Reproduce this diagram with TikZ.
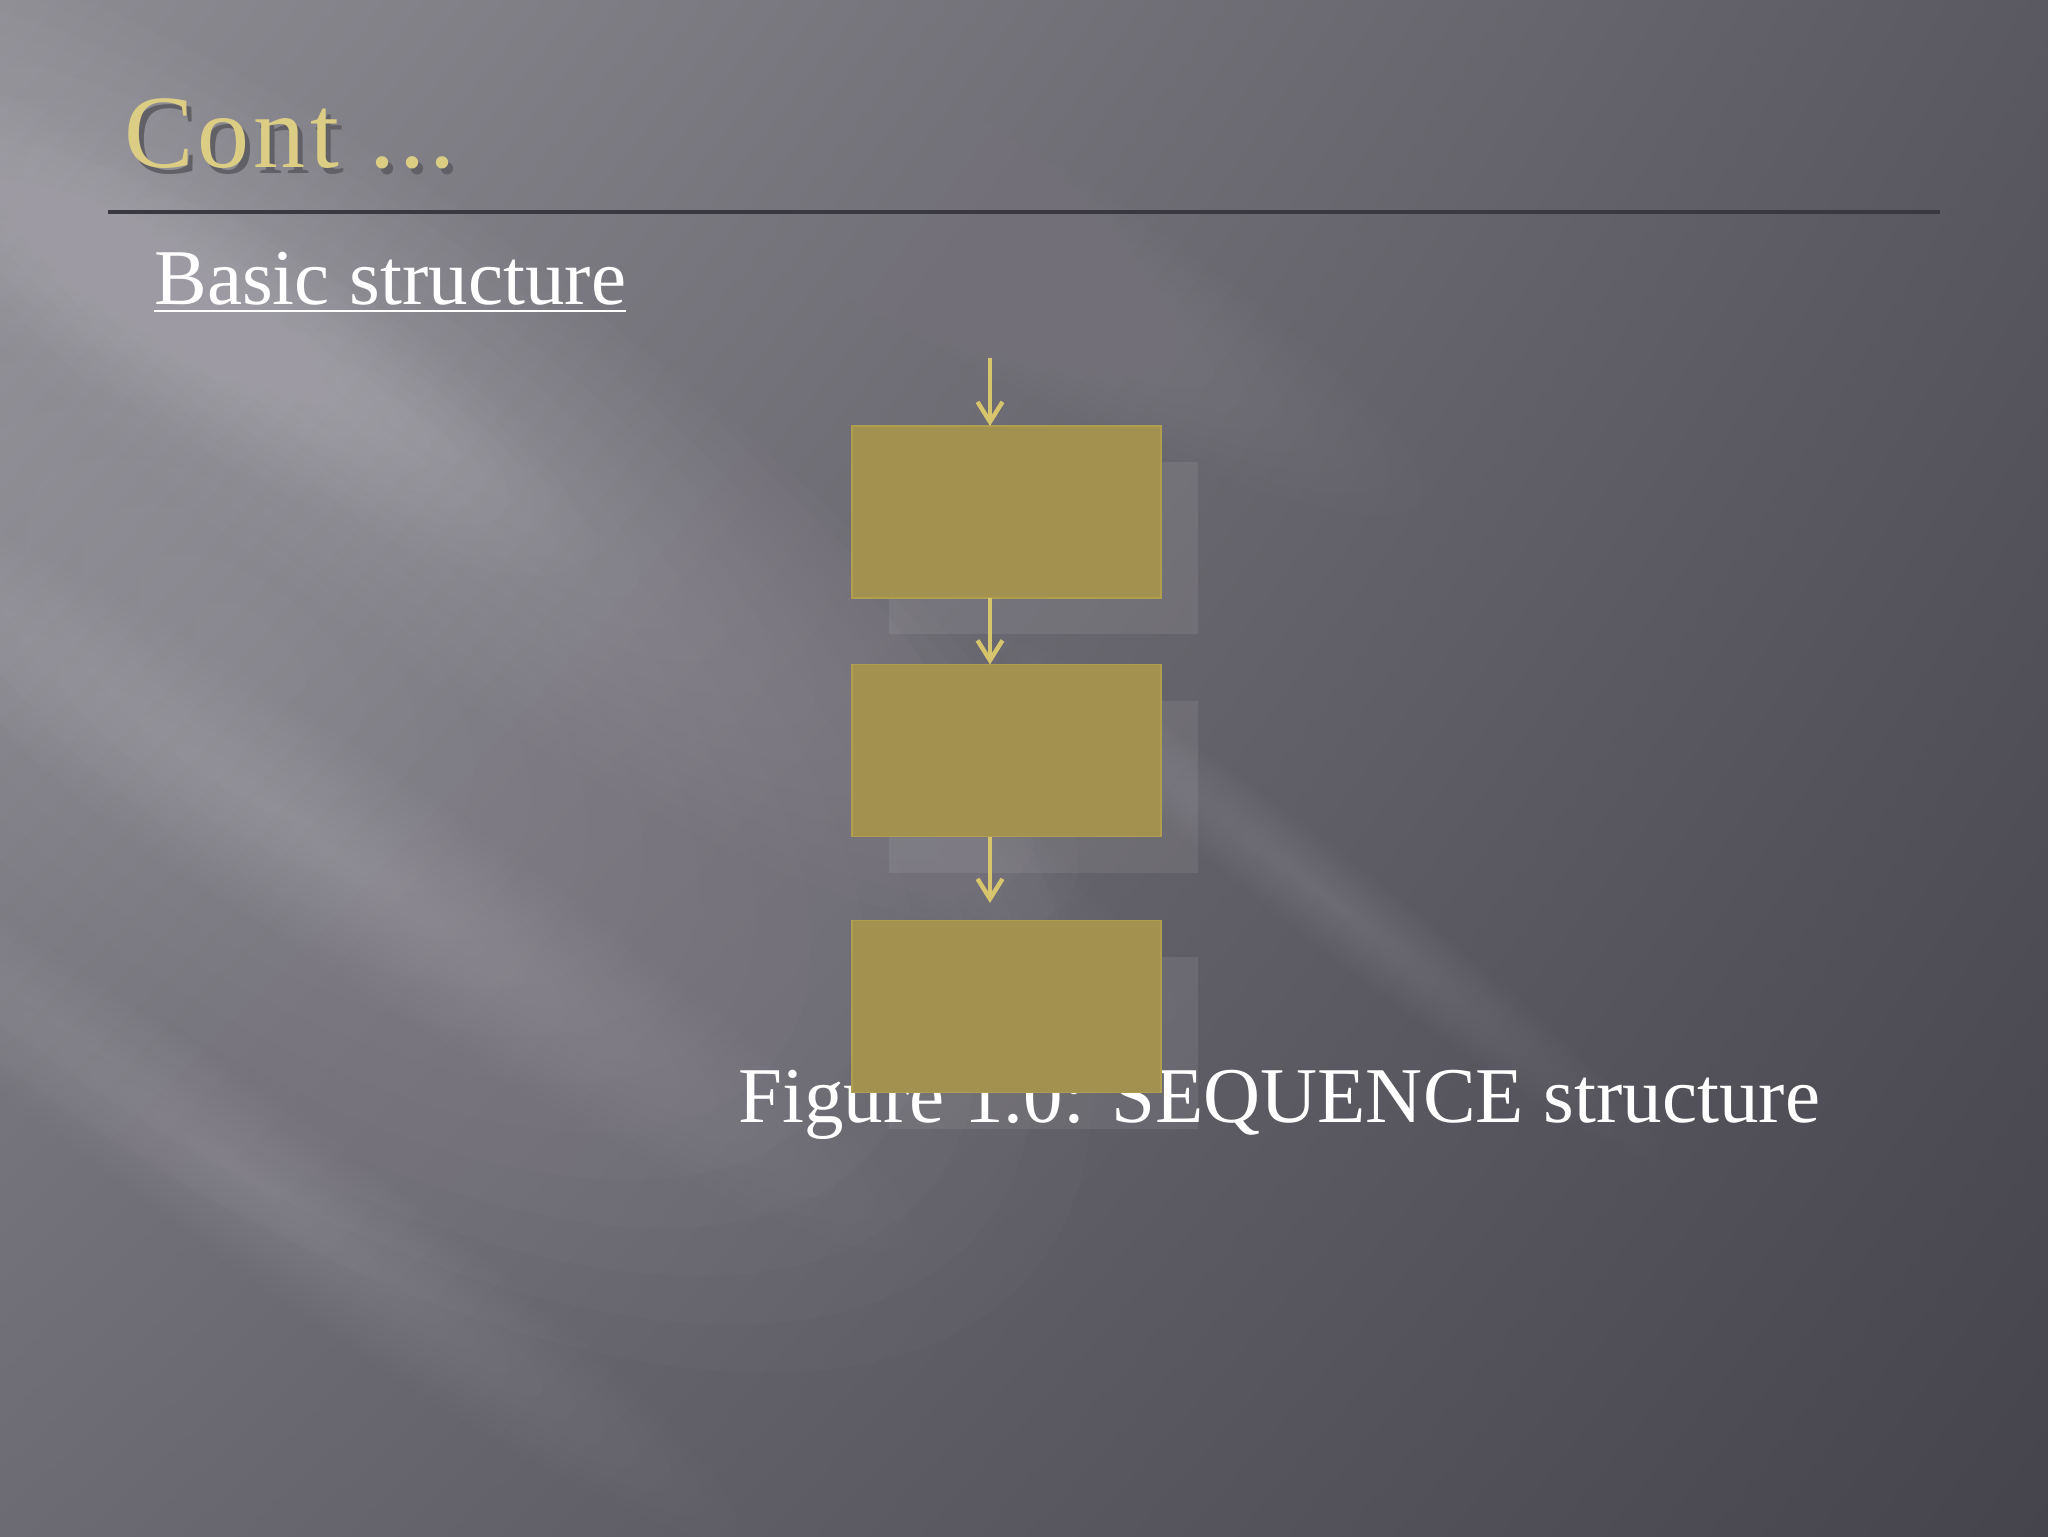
\documentclass[tikz,border=0pt]{standalone}
\usepackage{fontspec}
\setmainfont{Liberation Serif}
\newfontfamily\titlefont[LetterSpace=4]{Liberation Serif}
\usetikzlibrary{arrows.meta,shadings}
\definecolor{boxfill}{HTML}{A2914F}
\definecolor{boxline}{HTML}{AE9E4E}
\definecolor{arrowcol}{HTML}{D6C56C}
\definecolor{gold}{HTML}{DCCD84}
\definecolor{titleshade}{HTML}{626067}
\definecolor{rulecol}{HTML}{3A3840}
\definecolor{streak}{HTML}{F2EEF8}
\definecolor{bgUL}{HTML}{8E8C93}
\definecolor{bgUR}{HTML}{5A5860}
\definecolor{bgLL}{HTML}{6C6A72}
\definecolor{bgLR}{HTML}{45434B}
\begin{document}
\begin{tikzpicture}[x=0.5pt,y=-0.5pt,
  seqbox/.style={fill=boxfill, draw=boxline, line width=0.8pt, minimum width=154.5pt, minimum height=86pt, inner sep=0pt, outer sep=0pt},
  shadowbox/.style={fill=white, fill opacity=0.08, minimum width=154.5pt, minimum height=86pt, inner sep=0pt, outer sep=0pt},
  seqarrow/.style={draw=arrowcol, line width=2.2pt, -{Straight Barb[length=10pt,width=12.5pt,line width=2.2pt]}},
  slidetext/.style={anchor=base west, inner sep=0pt, text=white, font=\fontsize{39.5}{46}\selectfont}
]
\useasboundingbox (0,0) rectangle (2048,1536);
% background
\shade[upper left=bgUL, upper right=bgUR, lower left=bgLL, lower right=bgLR] (0,0) rectangle (2048,1536);
\begin{scope}
  \clip (0,0) rectangle (2048,1536);
  \foreach \cx/\cy/\A/\B/\a/\r in {
      250/650/1000/480/0.016/-38,
      420/430/800/200/0.014/-36,
      200/320/450/110/0.012/-32,
      330/850/700/100/0.013/-34,
      250/1180/600/80/0.010/-36,
      700/650/600/80/0.008/-38,
      1330/900/420/45/0.009/-38,
      900/200/600/110/0.006/-30}{
    \begin{scope}[shift={(\cx,\cy)}, rotate=\r]
      \foreach \k in {1,...,15}{
        \fill[streak, fill opacity=\a] (0,0) ellipse [x radius={\A*\k/15}, y radius={\B*\k/15}];
      }
    \end{scope}
  }
\end{scope}
% title (with its drop shadow inside the same node)
\node (title) [anchor=base west, inner sep=0pt, text=gold, font=\titlefont\fontsize{52}{60}\selectfont] at (124,167)
  {\makebox[0pt][l]{\hspace{2.5pt}\raisebox{-3pt}{\textcolor{titleshade}{Cont ...}}}Cont ...};
\draw[rulecol, line width=2pt] (108,212) -- (1940,212);
% subtitle
\node (basic) [slidetext] at (154,304) {Basic structure};
\draw[white, line width=1.4pt] ([yshift=-3.5pt]basic.base west) -- ([yshift=-3.5pt]basic.base east);
% caption
\node (caption) [slidetext] at (738,1122) {Figure 1.0: SEQUENCE structure};
% shadows
\node (sh1) [shadowbox] at (1043.5,548) {};
\node (sh2) [shadowbox] at (1043.5,786.5) {};
\node (sh3) [shadowbox] at (1043.5,1042.5) {};
% boxes
\node (box1) [seqbox] at (1006.5,512) {};
\node (box2) [seqbox] at (1006.5,750.5) {};
\node (box3) [seqbox] at (1006.5,1006.5) {};
% arrows
\coordinate (start) at (990,358);
\coordinate (end) at (990,903);
\draw[seqarrow] (start) -- (start |- box1.north);
\draw[seqarrow] (box1.south -| start) -- (box2.north -| start);
\draw[seqarrow] (box2.south -| start) -- (end);
\end{tikzpicture}
\end{document}
